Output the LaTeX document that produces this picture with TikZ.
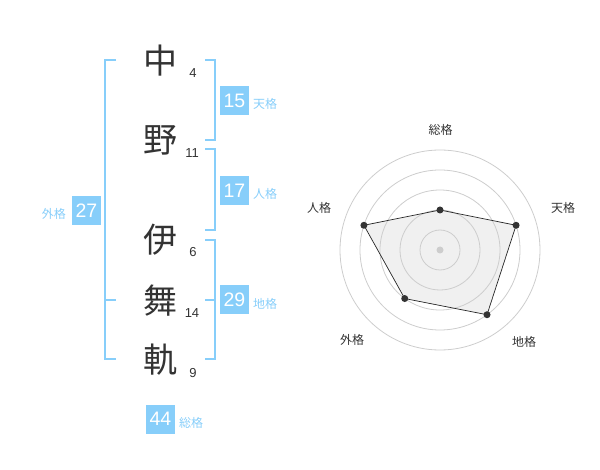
\documentclass[tikz,border=0pt]{standalone}
\usepackage{fontspec}
\usetikzlibrary{calc}
\setmainfont{Liberation Sans}
\newfontfamily\cjk{Noto Sans CJK JP}
\definecolor{sky}{RGB}{135,206,250}
\definecolor{ink}{RGB}{51,51,51}
\definecolor{ring}{RGB}{205,205,205}
\definecolor{polyfill}{RGB}{240,240,240}
\tikzset{
  kanji/.style={text=ink,font=\cjk\fontsize{34}{34}\selectfont,inner sep=0pt},
  stroke/.style={text=ink,font=\fontsize{13}{13}\selectfont,inner sep=0pt},
  valbox/.style={fill=sky,text=white,minimum size=29pt,inner sep=0pt,font=\fontsize{19.5}{19.5}\selectfont},
  kaku/.style={text=sky,font=\cjk\fontsize{12}{12}\selectfont,inner sep=0pt},
  brk/.style={draw=sky,line width=2pt},
  axislbl/.style={text=ink,font=\cjk\fontsize{12}{12}\selectfont,inner sep=0pt},
  dot/.style={circle,fill=ink,minimum size=7pt,inner sep=0pt},
}
\begin{document}
\begin{tikzpicture}[x=1pt,y=-1pt]
\useasboundingbox (0,0) rectangle (600,470);
% kanji
\node[kanji] (k1) at (160,61) {中};
\node[kanji] (k2) at (160,140) {野};
\node[kanji] (k3) at (160,240) {伊};
\node[kanji] (k4) at (160,301) {舞};
\node[kanji] (k5) at (160,360) {軌};
\node[stroke] (n1) at (193,73) {4};
\node[stroke] (n2) at (192,153) {11};
\node[stroke] (n3) at (193,252) {6};
\node[stroke] (n4) at (192,313) {14};
\node[stroke] (n5) at (193,373) {9};
% brackets
\draw[brk] (116,60) -- (105,60) -- (105,359) -- (116,359);
\draw[brk] (105,300) -- (116,300);
\draw[brk] (205,60) -- (215,60) -- (215,140) -- (205,140);
\draw[brk] (205,149) -- (215,149) -- (215,230) -- (205,230);
\draw[brk] (205,240) -- (215,240) -- (215,359) -- (205,359);
\draw[brk] (205,300) -- (215,300);
% boxes
\node[valbox] (b15) at (234.5,100.5) {15};
\node[kaku,anchor=west] (l15) at (253,104) {天格};
\node[valbox] (b17) at (234.5,190.5) {17};
\node[kaku,anchor=west] (l17) at (253,194) {人格};
\node[valbox] (b29) at (234.5,300) {29};
\node[kaku,anchor=west] (l29) at (253,303.5) {地格};
\node[valbox] (b27) at (86.5,210.5) {27};
\node[kaku,anchor=east] (l27) at (66,213.5) {外格};
\node[valbox] (b44) at (160.5,419) {44};
\node[kaku,anchor=west] (l44) at (179,422.5) {総格};
% radar
\coordinate (c) at (440,250);
\coordinate (ps) at ($(c)+(-90:40)$);
\coordinate (pt) at ($(c)+(-18:80)$);
\coordinate (pc) at ($(c)+(54:80)$);
\coordinate (pg) at ($(c)+(126:60)$);
\coordinate (pj) at ($(c)+(198:80)$);
\fill[polyfill] (ps) -- (pt) -- (pc) -- (pg) -- (pj) -- cycle;
\foreach \r in {20,40,60,80,100} \draw[ring,line width=0.8pt] (c) circle[radius=\r];
\fill[ring] (c) circle[radius=3.5];
\draw[draw=black!85,line width=0.7pt] (ps) -- (pt) -- (pc) -- (pg) -- (pj) -- cycle;
\foreach \p in {ps,pt,pc,pg,pj} \node[dot] at (\p) {};
\node[axislbl] (as) at (440.5,130) {総格};
\node[axislbl] (at) at (563,208) {天格};
\node[axislbl] (ac) at (524,342) {地格};
\node[axislbl] (ag) at (352,340) {外格};
\node[axislbl] (aj) at (319,208) {人格};
\end{tikzpicture}
\end{document}
